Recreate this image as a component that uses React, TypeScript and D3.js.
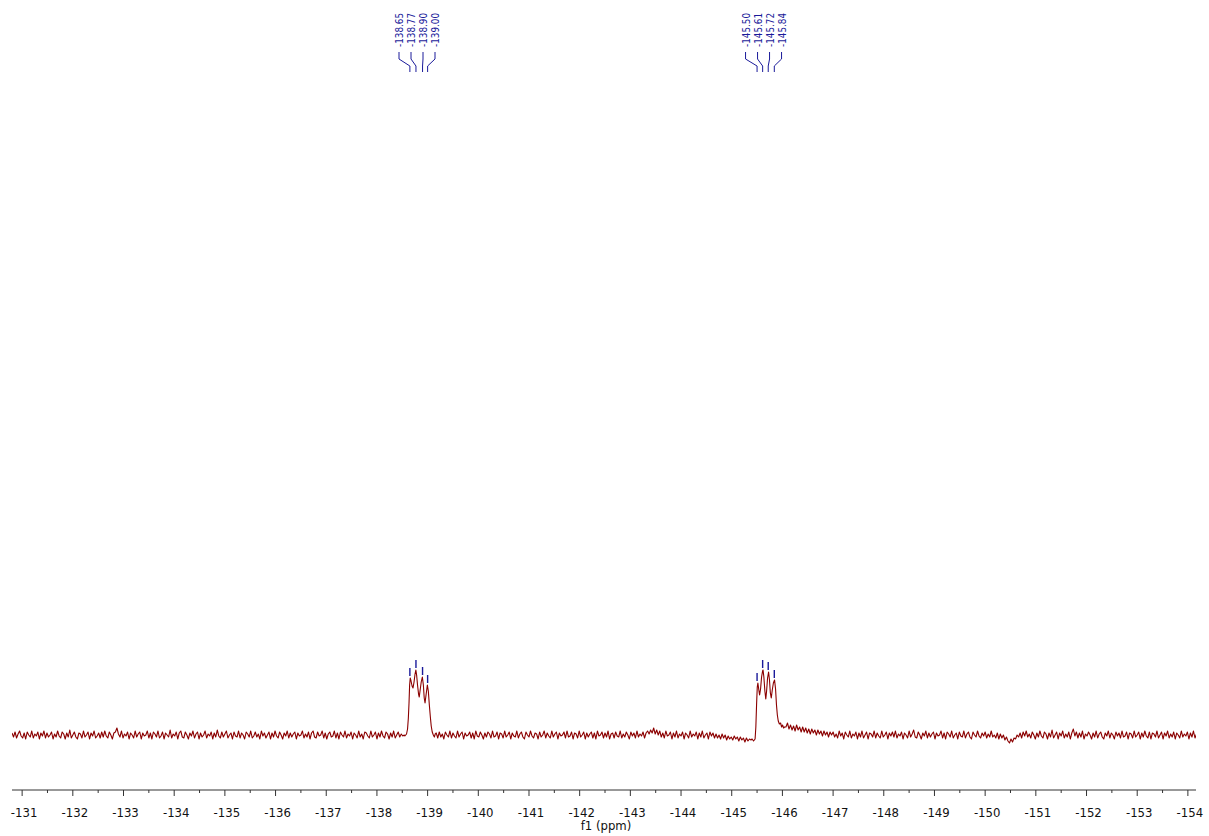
import React from "react";
import * as d3 from "d3";

// ---- Data ----
const AXIS_TICKS = [-131, -132, -133, -134, -135, -136, -137, -138, -139, -140, -141, -142, -143, -144, -145, -146, -147, -148, -149, -150, -151, -152, -153, -154];

// baseline noise, uniformly sampled from -130.80 ppm in 0.03 ppm steps
const NOISE_START = -130.8;
const NOISE_STEP = 0.03;
const NOISE = [
  2,-2,3,-3,1,4,-1,-3,2,-4,3,0,-2,4,-3,1,-1,3,-4,2,
  -1,4,-3,2,-2,0,3,-4,1,-2,4,-1,-3,3,1,-4,2,-2,5,-3,
  0,3,-2,-4,2,1,-3,4,-2,0,3,-4,2,-1,4,-3,-1,2,-3,3,
  -2,4,-1,-3,3,0,-4,2,3,7,1,-2,4,-3,1,-1,3,-4,2,0,
  -3,4,-2,1,3,-4,2,-1,0,4,-3,2,-4,3,1,-2,4,-3,-1,3,
  -4,2,0,-2,5,-3,1,-1,3,-4,2,4,-2,-3,3,0,-4,2,-1,4,
  -3,1,3,-4,2,-2,0,4,-3,1,-1,3,-4,2,-2,5,-1,-3,3,-2,
  1,4,-3,0,2,-4,3,-1,-2,4,-3,2,0,-4,3,1,-2,4,-3,-1,
  3,-2,1,-4,4,-1,2,-3,0,3,-4,2,-2,4,-1,-3,3,0,-4,2,
  -1,4,-3,2,-2,1,3,-4,2,-1,0,4,-3,1,-2,3,-4,2,4,-2,
  -3,3,-1,0,4,-3,2,-4,1,3,-2,-1,4,-3,2,-4,3,0,-2,4,
  -3,1,-1,3,-4,2,0,-3,4,-2,1,-4,3,2,-1,-3,4,-2,0,3,
  -4,2,-2,4,-1,-3,3,1,-4,2,-2,4,-3,0,3,-2,1,-1,0,0,
  0,0,0,0,0,0,0,0,0,0,0,0,0,0,0,0,0,0,0,2,
  -3,3,-2,1,-4,3,0,-2,4,-3,2,-1,-3,4,-2,1,3,-4,2,-1,
  0,3,-3,2,-4,4,-1,-2,3,0,-4,2,-2,3,1,-3,4,-2,-1,3,
  -4,2,1,-3,4,-2,0,3,-4,2,-1,-2,4,-3,1,3,-2,-4,3,0,
  -2,4,-1,-3,2,1,-4,3,-2,0,4,-3,2,-1,-3,4,-2,1,3,-4,
  2,-1,0,3,-3,4,-2,-1,3,-4,2,1,-3,4,-2,0,3,-4,2,-2,
  1,3,-3,2,-4,4,-1,0,3,-3,2,-2,4,-4,1,2,-3,3,-1,-2,
  4,-3,1,-2,3,0,-4,3,-1,2,-3,4,-2,1,-1,3,-3,2,4,1,
  5,2,7,1,5,0,4,-2,2,-3,4,-1,0,3,-4,2,-2,4,-3,1,
  -1,3,-4,2,0,-3,4,-2,1,-1,3,-4,2,-2,4,-3,0,2,-4,3,
  -1,2,-3,1,-3,0,-4,1,-3,0,-5,-1,-4,-2,-5,-1,-4,-2,-6,-2,
  -5,-3,-7,-3,-6,-4,-5,0,0,0,0,0,0,0,0,0,0,0,0,0,
  0,0,0,0,0,0,0,0,0,8,12,6,10,5,9,4,10,5,8,3,
  8,3,7,2,6,1,6,2,5,0,5,1,4,-1,4,0,3,-2,3,0,
  3,-2,1,-3,4,-1,2,-4,3,0,-2,4,-3,1,-1,3,-4,2,-2,4,
  -3,0,3,-4,2,1,-2,4,-3,2,-1,-3,4,-2,0,3,-4,2,-1,3,
  -2,4,-3,1,-1,3,-4,2,0,-3,4,-2,1,5,-2,-3,3,0,-4,2,
  -1,4,-3,2,-2,1,3,-4,2,-1,0,4,-3,2,-4,3,1,-2,4,-3,
  0,2,-4,3,-1,-2,4,-3,1,3,-2,-4,3,0,-2,4,-1,-3,2,-1,
  3,-3,1,-2,4,-2,0,-3,2,-4,1,-3,0,-5,-2,-6,-8,-4,-7,-3,
  -4,0,-2,2,-3,3,-1,4,-2,1,-3,3,0,-4,2,-2,4,-1,-3,3,
  1,-4,2,-2,5,-3,0,3,-4,2,-1,4,-3,1,-2,3,-4,2,6,-1,
  3,-3,2,-2,4,-4,1,-1,3,0,-4,2,-2,4,-3,1,3,-2,-4,2,
  -1,4,-3,2,0,-4,3,-1,2,-3,4,-2,-1,3,-4,2,1,-3,4,-2,
  0,3,-4,2,-2,4,-1,-3,3,-4,2,1,-2,4,-3,0,3,-4,2,-1,
  4,-3,1,-2,3,-4,2,0,-3,4,-2,1,-1,3,-4,2,-2,4,-3,1,
];

// multiplet 1 (ppm, intensity)
const MULT1_PPM = [-138.551,-138.584,-138.604,-138.620,-138.633,-138.645,-138.657,-138.673,-138.693,-138.712,-138.732,-138.752,-138.768,-138.783,-138.801,-138.821,-138.835,-138.850,-138.874,-138.896,-138.916,-138.933,-138.949,-138.969,-138.995,-139.014,-139.034,-139.054,-139.071,-139.091,-139.113,-139.133,-139.150];
const MULT1_INT = [-1,1,6,17,32,50,57,54,49,47,53,61,65,60,50,41,38,44,53,58,50,37,32,40,50,44,30,18,9,3,0,-2,1];

// multiplet 2 (ppm, intensity)
const MULT2_PPM = [-145.401,-145.431,-145.461,-145.476,-145.490,-145.504,-145.516,-145.532,-145.550,-145.569,-145.589,-145.609,-145.618,-145.634,-145.654,-145.672,-145.688,-145.707,-145.727,-145.745,-145.762,-145.780,-145.800,-145.822,-145.845,-145.865,-145.883,-145.900,-145.918,-145.940,-145.964,-145.984,-146.003,-146.023,-146.043];
const MULT2_INT = [-4,-6,-4,8,30,48,52,46,40,46,58,64,65,58,44,36,44,57,63,55,42,37,45,52,55,46,30,20,14,11,12,8,10,7,8];

// peak picking
const PEAKS1 = [-138.65, -138.77, -138.90, -139.00];
const PEAKS1_H = [57, 65, 58, 50];
const PEAKS2 = [-145.50, -145.61, -145.72, -145.84];
const PEAKS2_H = [52, 65, 63, 55];

// ---- Layout ----
const W = 1209;
const H = 836;
const X0 = 12;
const X1 = 1196;
const AXIS_Y = 790;
const BASE_Y = 735;

const RED = "#8b0000";
const BLUE = "#1a1a9a";
const FONT = "'DejaVu Sans Condensed', 'DejaVu Sans', Verdana, sans-serif";

export default function App() {
  const x = d3.scaleLinear().domain([-130.8, -154.16]).range([X0, X1]);
  const y = d3.scaleLinear().domain([0, 100]).range([BASE_Y, BASE_Y - 100]);

  const r1 = [MULT1_PPM[MULT1_PPM.length - 1], MULT1_PPM[0]];
  const r2 = [MULT2_PPM[MULT2_PPM.length - 1], MULT2_PPM[0]];
  const pts: [number, number][] = [];
  NOISE.forEach((v, i) => {
    const p = NOISE_START - i * NOISE_STEP;
    if (p >= r1[0] - 1e-6 && p <= r1[1] + 1e-6) return;
    if (p >= r2[0] - 1e-6 && p <= r2[1] + 1e-6) return;
    pts.push([p, v]);
  });
  MULT1_PPM.forEach((p, i) => pts.push([p, MULT1_INT[i]]));
  MULT2_PPM.forEach((p, i) => pts.push([p, MULT2_INT[i]]));
  pts.sort((a, b) => b[0] - a[0]);

  const line = d3
    .line<[number, number]>()
    .x((d) => x(d[0]))
    .y((d) => y(d[1]));

  const minor = AXIS_TICKS.slice(0, -1).map((t) => t - 0.5);

  const groups = [
    { peaks: PEAKS1, h: PEAKS1_H },
    { peaks: PEAKS2, h: PEAKS2_H },
  ];

  return (
    <svg
      width={W}
      height={H}
      style={{ position: "absolute", left: 0, top: 0, background: "#fff" }}
    >
      <defs>
        <clipPath id="plot">
          <rect x={X0} y={0} width={X1 - X0} height={H} />
        </clipPath>
      </defs>

      {/* spectrum */}
      <path
        d={line(pts) || ""}
        fill="none"
        stroke={RED}
        strokeWidth={1.1}
        strokeLinejoin="round"
        clipPath="url(#plot)"
      />

      {/* peak labels */}
      {groups.map((g, gi) => {
        const px = g.peaks.map((p) => x(p));
        const mid = d3.mean(px) as number;
        return (
          <g key={gi}>
            {g.peaks.map((p, j) => {
              const lx = mid - 2 + (j - 1.5) * 12;
              const pxj = px[j];
              const top = y(g.h[j]);
              return (
                <g key={j}>
                  <text
                    transform={`translate(${lx},47) rotate(-90)`}
                    dy="0.36em"
                    fontFamily={FONT}
                    fontSize={11}
                    fill={BLUE}
                    textLength={34}
                    lengthAdjust="spacingAndGlyphs"
                  >
                    {p.toFixed(2)}
                  </text>
                  <polyline
                    points={`${lx},52 ${lx},59 ${pxj},66 ${pxj},72`}
                    fill="none"
                    stroke={BLUE}
                    strokeWidth={1}
                  />
                  <line
                    x1={pxj}
                    x2={pxj}
                    y1={top - 2}
                    y2={top - 10}
                    stroke={BLUE}
                    strokeWidth={1.4}
                  />
                </g>
              );
            })}
          </g>
        );
      })}

      {/* axis */}
      <line x1={X0} x2={X1} y1={AXIS_Y} y2={AXIS_Y} stroke="#333" strokeWidth={1} />
      {AXIS_TICKS.map((t) => (
        <g key={t}>
          <line x1={x(t)} x2={x(t)} y1={AXIS_Y} y2={AXIS_Y + 6} stroke="#333" strokeWidth={1} />
          <text
            x={x(t) + 2}
            y={817}
            textAnchor="middle"
            fontFamily={FONT}
            fontSize={13}
            fill="#111"
          >
            {String(t)}
          </text>
        </g>
      ))}
      {minor.map((t) => (
        <line key={t} x1={x(t)} x2={x(t)} y1={AXIS_Y} y2={AXIS_Y + 3} stroke="#333" strokeWidth={1} />
      ))}
      <text
        x={(X0 + X1) / 2 + 2}
        y={830}
        textAnchor="middle"
        fontFamily={FONT}
        fontSize={13}
        fill="#111"
      >
        f1 (ppm)
      </text>
    </svg>
  );
}
